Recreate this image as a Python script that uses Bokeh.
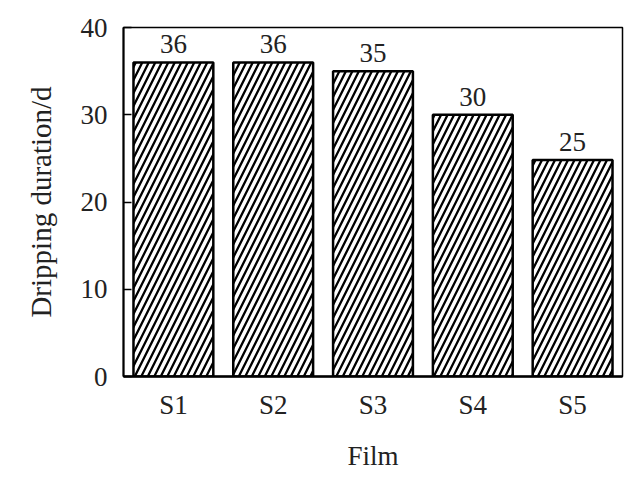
from bokeh.plotting import figure
from bokeh.models import Range1d, ColumnDataSource, FixedTicker
from bokeh.core.properties import value
from bokeh.embed import file_html
from bokeh.resources import INLINE

films = ["S1", "S2", "S3", "S4", "S5"]
duration = [36, 36, 35, 30, 24.8]
duration_labels = ["36", "36", "35", "30", "25"]
y_ticks = [0, 10, 20, 30, 40]

FONT = "Liberation Serif"
FS = "27px"

src = ColumnDataSource(dict(film=films, dur=duration, lab=duration_labels))

p = figure(width=642, height=481, x_range=films, y_range=Range1d(0, 40),
           output_backend="svg", toolbar_location=None,
           min_border_left=123, min_border_right=20, min_border_top=27, min_border_bottom=105)

p.vbar(x="film", top="dur", width=0.8, source=src, fill_color="white",
       line_color="black", line_width=2.5,
       hatch_pattern="right_diagonal_line", hatch_color="black",
       hatch_scale=13, hatch_weight=2.3)

p.text(x="film", y="dur", text="lab", source=src, text_font=value(FONT),
       text_font_size=FS, text_align="center", text_baseline="alphabetic",
       y_offset=-18, text_color="#222222")

p.xgrid.visible = False
p.ygrid.visible = False
p.outline_line_color = "black"
p.outline_line_width = 1.5
p.background_fill_color = "white"
p.border_fill_color = "white"

p.yaxis.ticker = FixedTicker(ticks=y_ticks)
p.yaxis.minor_tick_line_color = None
p.yaxis.major_tick_in = 8
p.yaxis.major_tick_out = 0
p.yaxis.major_tick_line_width = 1.5
p.yaxis.axis_line_width = 2
p.yaxis.axis_label = "Dripping duration/d"

p.xaxis.major_tick_line_color = None
p.xaxis.minor_tick_line_color = None
p.xaxis.major_tick_in = 0
p.xaxis.major_tick_out = 0
p.xaxis.axis_line_width = 2.5
p.xaxis.axis_label = "Film"

for ax in (p.xaxis, p.yaxis):
    ax.axis_line_color = "black"
    ax.major_label_text_font = FONT
    ax.major_label_text_font_size = FS
    ax.major_label_text_color = "#222222"
    ax.axis_label_text_font = FONT
    ax.axis_label_text_font_size = FS
    ax.axis_label_text_font_style = "normal"
    ax.axis_label_text_color = "#222222"

p.yaxis.axis_label_text_font_size = "29px"
p.yaxis.major_label_standoff = 16
p.yaxis.axis_label_standoff = 21
p.xaxis.major_label_standoff = 13
p.xaxis.axis_label_standoff = 18

open("out.html", "w").write(file_html(p, INLINE))
